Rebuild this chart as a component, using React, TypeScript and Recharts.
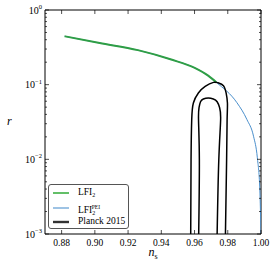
import { LineChart, Line, XAxis, YAxis, ReferenceLine, Legend } from "recharts";

// LFI_2 track (green)
const lfiNs = [0.8818, 0.9029, 0.9259, 0.946, 0.9601, 0.9682, 0.9732];
const lfiR = [0.445, 0.361, 0.29, 0.217, 0.168, 0.132, 0.107];

// LFI_2^PEI track (blue), runs on down to ns -> 1
const peiNs = [0.8818, 0.9029, 0.9259, 0.946, 0.9601, 0.9682, 0.9732, 0.9855, 0.9915, 0.9955, 0.9978, 0.9993, 1.0];
const peiR = [0.445, 0.361, 0.29, 0.217, 0.168, 0.132, 0.107, 0.0574, 0.0342, 0.0204, 0.0105, 0.0039, 0.001];

// Planck 2015 contours, traced up the left side, over the top, down the right
const outerNs = [0.9577, 0.9579, 0.9583, 0.9593, 0.9623, 0.9664, 0.9714, 0.9742, 0.9774, 0.979, 0.9798, 0.9796, 0.9793, 0.9786];
const outerR = [0.001, 0.0098, 0.0339, 0.0568, 0.0774, 0.0949, 0.1074, 0.106, 0.097, 0.0774, 0.0568, 0.0339, 0.0098, 0.001];
const innerNs = [0.9625, 0.9629, 0.9624, 0.9627, 0.9636, 0.9653, 0.9683, 0.9713, 0.9736, 0.9751, 0.9757, 0.9746, 0.9736];
const innerR = [0.001, 0.0098, 0.0339, 0.0491, 0.0591, 0.0643, 0.0663, 0.0643, 0.0591, 0.0491, 0.0339, 0.0098, 0.001];

const xTicks = [0.88, 0.9, 0.92, 0.94, 0.96, 0.98, 1.0];
const yMajor = [0.001, 0.01, 0.1, 1];
const yTicks = [
  0.001, 0.002, 0.003, 0.004, 0.005, 0.006, 0.007, 0.008, 0.009,
  0.01, 0.02, 0.03, 0.04, 0.05, 0.06, 0.07, 0.08, 0.09,
  0.1, 0.2, 0.3, 0.4, 0.5, 0.6, 0.7, 0.8, 0.9, 1,
];

const W = 276;
const H = 269;
const PLOT_W = 216;
const PLOT_H = 224;
const FONT = "'Liberation Serif', 'DejaVu Serif', serif";

const zip = (xs: number[], ys: number[]) => xs.map((ns, i) => ({ ns, r: ys[i] }));

function YTick({ x, y, payload }: any) {
  const v = payload.value as number;
  const exp = Math.round(Math.log10(v));
  const major = yMajor.includes(v);
  const len = major ? 4 : 2;
  return (
    <g>
      <line x1={x} x2={x + len} y1={y} y2={y} stroke="#000" strokeWidth={0.7} />
      <line x1={x + PLOT_W} x2={x + PLOT_W - len} y1={y} y2={y} stroke="#000" strokeWidth={0.7} />
      {major && (
        <text x={x - 3} y={y + 3.5} textAnchor="end" fontFamily={FONT} fontSize={10} fill="#000">
          10
          <tspan dy={-4.5} fontSize={6.5}>
            {exp === 0 ? "0" : `\u2212${-exp}`}
          </tspan>
        </text>
      )}
    </g>
  );
}

function XTick({ x, y, payload }: any) {
  return (
    <g>
      <line x1={x} x2={x} y1={y} y2={y - 4} stroke="#000" strokeWidth={0.7} />
      <line x1={x} x2={x} y1={y - PLOT_H} y2={y - PLOT_H + 4} stroke="#000" strokeWidth={0.7} />
      <text x={x} y={y + 12} textAnchor="middle" fontFamily={FONT} fontSize={9.5} fill="#000">
        {(payload.value as number).toFixed(2)}
      </text>
    </g>
  );
}

function NsLabel({ viewBox }: any) {
  const cx = viewBox.x + viewBox.width / 2;
  return (
    <text x={cx} y={viewBox.y + 22} textAnchor="middle" fontFamily={FONT} fontSize={12} fill="#000">
      <tspan fontStyle="italic">n</tspan>
      <tspan fontSize={8} dy={2.5}>s</tspan>
    </text>
  );
}

function RLabel({ viewBox }: any) {
  const cy = viewBox.y + viewBox.height / 2;
  return (
    <text x={7} y={cy + 3} fontFamily={FONT} fontSize={12} fontStyle="italic" fill="#000">
      r
    </text>
  );
}

const legendRows = [
  { key: "lfi", color: "#3cb043", width: 1.6, top: 9 },
  { key: "pei", color: "#6aa2d6", width: 1.3, top: 24 },
  { key: "planck", color: "#333", width: 2.4, top: 38 },
];

function LegendLabel({ k }: { k: string }) {
  if (k === "lfi")
    return (
      <span>
        LFI<sub style={{ fontSize: 6, verticalAlign: -2 }}>2</sub>
      </span>
    );
  if (k === "pei")
    return (
      <span>
        LFI<sub style={{ fontSize: 6, verticalAlign: -2 }}>2</sub>
        <sup style={{ fontSize: 5.5, verticalAlign: 4, marginLeft: -3.5 }}>PEI</sup>
      </span>
    );
  return <span>Planck 2015</span>;
}

function LegendBox() {
  return (
    <div
      style={{
        position: "relative",
        width: 81,
        height: 45,
        boxSizing: "border-box",
        border: "1px solid #555",
        borderRadius: 3,
        background: "rgba(255,255,255,0.9)",
        fontFamily: FONT,
        fontSize: 9.5,
        color: "#000",
      }}
    >
      <svg width={24} height={45} style={{ position: "absolute", left: 0, top: -1 }}>
        {legendRows.map((row) => (
          <line key={row.key} x1={4} x2={20} y1={row.top} y2={row.top} stroke={row.color} strokeWidth={row.width} />
        ))}
      </svg>
      {legendRows.map((row) => (
        <div
          key={row.key}
          style={{ position: "absolute", left: 29, top: row.top - 8, lineHeight: "13px", whiteSpace: "nowrap" }}
        >
          <LegendLabel k={row.key} />
        </div>
      ))}
    </div>
  );
}

export default function App() {
  return (
    <div style={{ position: "absolute", left: 0, top: 0, width: W, height: H, background: "#fff" }}>
      <LineChart width={W} height={H} margin={{ top: 10, right: 15, bottom: 0, left: 0 }}>
        <XAxis
          dataKey="ns"
          type="number"
          domain={[0.87, 1.0]}
          ticks={xTicks}
          interval={0}
          allowDataOverflow
          height={35}
          tickSize={0}
          tickMargin={0}
          tickLine={false}
          axisLine={{ stroke: "#000", strokeWidth: 1 }}
          tick={<XTick />}
          label={<NsLabel />}
        />
        <YAxis
          dataKey="r"
          type="number"
          scale="log"
          domain={[0.001, 1]}
          ticks={yTicks}
          interval={0}
          allowDataOverflow
          width={45}
          tickSize={0}
          tickMargin={0}
          tickLine={false}
          axisLine={{ stroke: "#000", strokeWidth: 1 }}
          tick={<YTick />}
          label={<RLabel />}
        />
        <ReferenceLine y={1} stroke="#000" strokeWidth={1} />
        <ReferenceLine x={1.0} stroke="#000" strokeWidth={1} />
        <Line
          data={zip(peiNs, peiR)}
          dataKey="r"
          type="monotone"
          stroke="#4a8fcc"
          strokeWidth={1}
          dot={false}
          isAnimationActive={false}
        />
        <Line
          data={zip(lfiNs, lfiR)}
          dataKey="r"
          type="monotone"
          stroke="#2f9e46"
          strokeWidth={2}
          dot={false}
          isAnimationActive={false}
        />
        <Line
          data={zip(outerNs, outerR)}
          dataKey="r"
          type="natural"
          stroke="#000"
          strokeWidth={1.5}
          dot={false}
          isAnimationActive={false}
        />
        <Line
          data={zip(innerNs, innerR)}
          dataKey="r"
          type="natural"
          stroke="#000"
          strokeWidth={1.5}
          dot={false}
          isAnimationActive={false}
        />
        <Legend
          layout="vertical"
          align="center"
          verticalAlign="middle"
          content={<LegendBox />}
          wrapperStyle={{ left: 48, top: 184, width: 81, height: 45 }}
        />
      </LineChart>
    </div>
  );
}
